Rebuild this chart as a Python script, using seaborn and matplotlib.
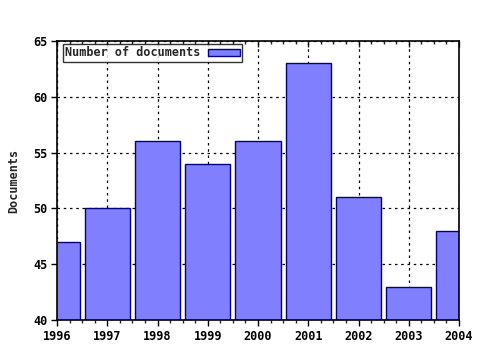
import matplotlib
matplotlib.use("Agg")
import matplotlib.pyplot as plt
import seaborn as sns
import pandas as pd
from matplotlib.ticker import MultipleLocator

years = [1996, 1997, 1998, 1999, 2000, 2001, 2002, 2003, 2004]
documents = [47, 50, 56, 54, 56, 63, 51, 43, 48]
series_label = "Number of documents"
y_label = "Documents"

sns.set_style("white")
plt.rcParams['font.family'] = ['DejaVu Sans Mono', 'DejaVu Sans']
plt.rcParams['font.weight'] = 'bold'

df = pd.DataFrame({"year": years, "docs": documents})

fig = plt.figure(figsize=(4.8, 3.5), dpi=100)
ax = fig.add_axes([57/480, 1-320/350, (459-57)/480, (320-41)/350])

sns.barplot(data=df, x="year", y="docs", native_scale=True, width=0.9,
            color="#8080FF", saturation=1, edgecolor="#000080", linewidth=1,
            label=series_label, ax=ax, zorder=2)

ax.set_xlim(1996, 2004)
ax.set_ylim(40, 65)
ax.set_xticks(years)
ax.set_xticklabels([str(y) for y in years])
ax.xaxis.set_minor_locator(MultipleLocator(0.25))
ax.yaxis.set_major_locator(MultipleLocator(5))

ax.grid(True, which="major", color="black", linestyle=(0, (2, 3)), linewidth=0.9, zorder=1)
ax.set_axisbelow(True)

for s in ax.spines.values():
    s.set_color("black")
    s.set_linewidth(1.2)

ax.tick_params(axis="x", which="major", direction="out", length=4, width=1, colors="black",
               labelsize=8.5, top=False, bottom=True, pad=3)
ax.tick_params(axis="x", which="minor", direction="out", length=2, width=1, top=False, bottom=True)
ax.tick_params(axis="y", which="major", direction="out", length=4, width=1, colors="black",
               labelsize=8.5, left=True, right=False, pad=3)

top = ax.secondary_xaxis("top")
top.set_xticks(years)
top.xaxis.set_minor_locator(MultipleLocator(0.25))
top.tick_params(axis="x", which="major", direction="in", length=4, width=1, labeltop=False)
top.tick_params(axis="x", which="minor", direction="in", length=2, width=1)
top.spines["top"].set_visible(False)

ax.set_xlabel("")
ax.set_ylabel(y_label, fontsize=8.5, fontweight="bold", labelpad=9)

leg = ax.legend(loc="upper left", markerfirst=False, frameon=True, fancybox=False,
                prop={"size": 8.5, "weight": "bold"}, borderpad=0.2, handlelength=2.7,
                handleheight=0.55, borderaxespad=0.0, handletextpad=0.6,
                bbox_to_anchor=(6/402, 1 - 3/279))
leg.get_frame().set_edgecolor("black")
leg.get_frame().set_linewidth(1)

fig.savefig("out.png", dpi=100)
